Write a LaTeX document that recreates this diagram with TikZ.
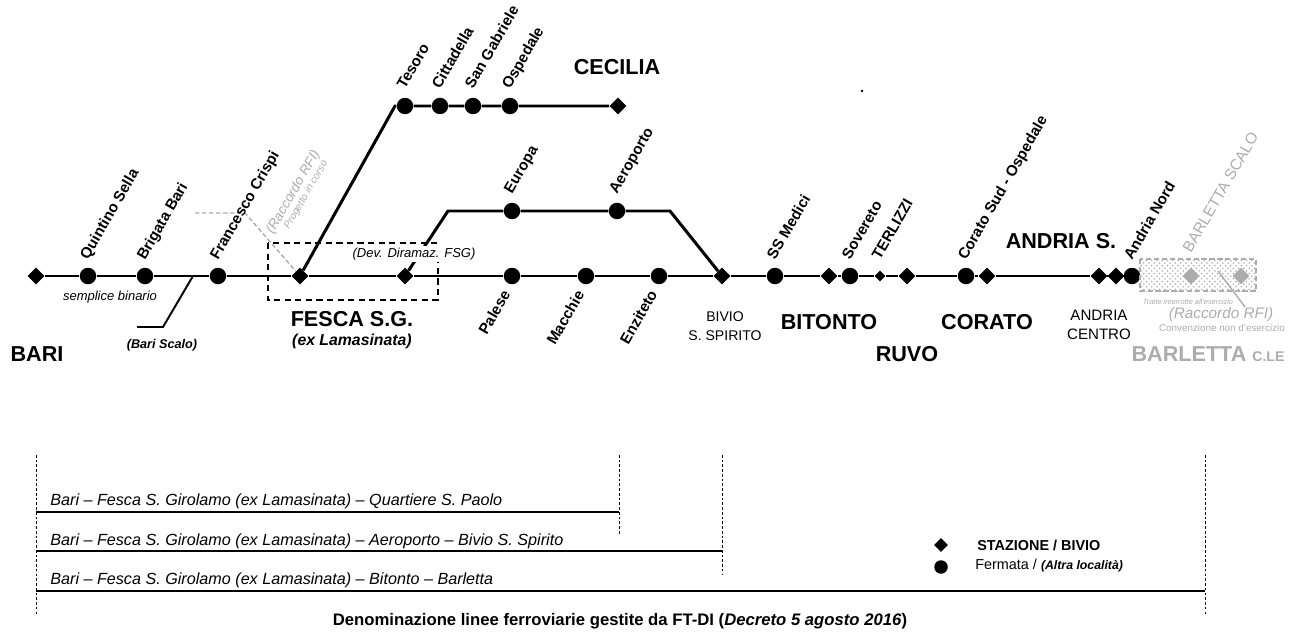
\documentclass[tikz,border=0pt]{standalone}
\usepackage{fontspec}
\setmainfont{Liberation Sans}
\usepackage{tikz}
\usetikzlibrary{
	positioning,
	shapes.geometric,
	patterns
}
\definecolor{rfigray}{RGB}{172,172,172}
\tikzset{
  % line
	cstline/.style   ={line width=1.7pt},
	cstthin/.style   ={line width=1.1pt},
	cstbox/.style    ={line width=1.1pt, dash pattern=on 3.5pt off 2.5pt},
	cstrfi/.style    ={rfigray, line width=0.8pt, dash pattern=on 2.5pt off 1.5pt},
	cstsep/.style    ={line width=0.5pt, dash pattern=on 1.5pt off 1.2pt},
  % station
	cststa/.style    ={diamond, fill=black, inner sep=0pt, minimum width=0.34cm, minimum height=0.34cm},
	cststas/.style   ={cststa, minimum width=0.22cm, minimum height=0.22cm},
	cststop/.style   ={circle, fill=black, inner sep=0pt, minimum size=0.33cm},
  % text
	cstname/.style   ={rotate=60, anchor=base west, inner sep=0pt, font=\fontsize{8.6}{10}\selectfont\bfseries},
	cstnamel/.style  ={rotate=60, anchor=base east, inner sep=0pt, font=\fontsize{8.6}{10}\selectfont\bfseries},
	csttown/.style   ={inner sep=0pt, font=\fontsize{12.3}{14}\selectfont\bfseries},
	cstsmall/.style  ={inner sep=0pt, align=center, font=\fontsize{8}{10.8}\selectfont},
	cstnote/.style   ={inner sep=0pt, font=\fontsize{7.4}{9}\selectfont\itshape},
	cstlinea/.style  ={anchor=base west, inner sep=0pt, font=\fontsize{9.2}{11}\selectfont\itshape}
}

\begin{document}
\begin{tikzpicture}[x=0.02cm, y=-0.02cm]
	\useasboundingbox (0,0) rectangle (1296,632);
	% main line
	\node[cststa] (bari) at (36,276) {};
	\node[cststop] (qsella) at (88,276) {};
	\node[cststop] (bbari) at (145,276) {};
	\node[cststop] (fcrispi) at (218,276) {};
	\node[cststa] (fesca) at (300,276) {};
	\node[cststa] (dev) at (405,276) {};
	\node[cststop] (palese) at (512,276) {};
	\node[cststop] (macchie) at (586,276) {};
	\node[cststop] (enziteto) at (659,276) {};
	\node[cststa] (bivio) at (722,276) {};
	\node[cststop] (ssmedici) at (775,276) {};
	\node[cststa] (bitonto) at (829,276) {};
	\node[cststop] (sovereto) at (850,276) {};
	\node[cststas] (terlizzi) at (880,276) {};
	\node[cststa] (ruvo) at (907,276) {};
	\node[cststop] (coratosud) at (966,276) {};
	\node[cststa] (corato) at (987,276) {};
	\node[cststa] (andriac) at (1099,276) {};
	\node[cststa] (andrias) at (1116,276) {};
	\node[cststop] (andrian) at (1132,276) {};
	\draw[cstline] (bari) -- (qsella) -- (bbari) -- (fcrispi) -- (fesca) -- (dev) -- (palese)
		-- (macchie) -- (enziteto) -- (bivio) -- (ssmedici) -- (bitonto) -- (sovereto)
		-- (terlizzi) -- (ruvo) -- (coratosud) -- (corato) -- (andriac) -- (andrias) -- (andrian);
	% Cecilia branch
	\coordinate (tbend) at (395,106);
	\node[cststop] (tesoro) at (405,106) {};
	\node[cststop] (cittadella) at (440,106) {};
	\node[cststop] (sgabriele) at (473,106) {};
	\node[cststop] (ospedale) at (510,106) {};
	\node[cststa] (cecilia) at (618,106) {};
	\draw[cstline] (fesca) -- (tbend) -- (tesoro) -- (cittadella) -- (sgabriele) -- (ospedale) -- (cecilia);
	% Aeroporto branch
	\coordinate (ebend1) at (448,211);
	\coordinate (ebend2) at (670,211);
	\node[cststop] (europa) at (512,211) {};
	\node[cststop] (aeroporto) at (617,211) {};
	\draw[cstline] (dev) -- (ebend1) -- (europa) -- (aeroporto) -- (ebend2) -- (bivio);
	% Bari Scalo, raccordo RFI
	\coordinate (scalo0) at (193,276);
	\coordinate (scalo1) at (163,327);
	\coordinate (scalo2) at (137,327);
	\draw[cstthin] (scalo0) -- (scalo1) -- (scalo2);
	\coordinate (rfi0) at (195,213);
	\coordinate (rfi1) at (245,213);
	\draw[cstrfi] (rfi0) -- (rfi1) -- (fesca);
	\coordinate (box1) at (268,243);
	\coordinate (box2) at (438,300);
	\draw[cstbox] (box1) rectangle (box2);
	\node[cstnote, fill=white, inner sep=1pt] (ldev) at (414,254) {(Dev. Diramaz. FSG)};
	% Barletta
	\coordinate (bar1) at (1140,259);
	\coordinate (bar2) at (1256,291);
	\fill[pattern=crosshatch dots, pattern color=rfigray] (bar1) rectangle (bar2);
	\draw[rfigray, line width=1pt, dash pattern=on 3pt off 1.5pt] (bar1) rectangle (bar2);
	\node[cststa, fill=rfigray] (bscalo) at (1191,276) {};
	\node[cststa, fill=rfigray] (bcle) at (1241,276) {};
	\coordinate (rfi2) at (1218,271);
	\coordinate (rfi3) at (1245,307);
	\draw[rfigray, line width=0.8pt] (rfi2) -- (rfi3);
	\fill (862,91) circle (0.8pt);
	% station names
	\node[cstname] (lqsella) at ([shift={(0,-15)}]qsella.center) {Quintino Sella};
	\node[cstname] (lbbari) at ([shift={(0,-15)}]bbari.center) {Brigata Bari};
	\node[cstname] (lfcrispi) at ([shift={(0,-15)}]fcrispi.center) {Francesco Crispi};
	\node[cstname] (ltesoro) at ([shift={(0,-16)}]tesoro.center) {Tesoro};
	\node[cstname] (lcittadella) at ([shift={(0,-16)}]cittadella.center) {Cittadella};
	\node[cstname] (lsgabriele) at ([shift={(0,-16)}]sgabriele.center) {San Gabriele};
	\node[cstname] (lospedale) at ([shift={(0,-16)}]ospedale.center) {Ospedale};
	\node[cstname] (leuropa) at ([shift={(0,-16)}]europa.center) {Europa};
	\node[cstname] (laeroporto) at ([shift={(0,-16)}]aeroporto.center) {Aeroporto};
	\node[cstname] (lssmedici) at ([shift={(0,-15)}]ssmedici.center) {SS Medici};
	\node[cstname] (lsovereto) at ([shift={(0,-15)}]sovereto.center) {Sovereto};
	\node[cstname] (lterlizzi) at ([shift={(0,-15)}]terlizzi.center) {TERLIZZI};
	\node[cstname] (lcoratosud) at ([shift={(0,-15)}]coratosud.center) {Corato Sud - Ospedale};
	\node[cstname] (landrian) at ([shift={(0,-15)}]andrian.center) {Andria Nord};
	\node[cstnamel] (lpalese) at ([shift={(-1,18)}]palese.center) {Palese};
	\node[cstnamel] (lmacchie) at ([shift={(-1,18)}]macchie.center) {Macchie};
	\node[cstnamel] (lenziteto) at ([shift={(-1,18)}]enziteto.center) {Enziteto};
	% towns
	\node[csttown] (lbari) at (37,354) {BARI};
	\node[csttown] (lfesca) at (352,319) {FESCA S.G.};
	\node[inner sep=0pt, font=\fontsize{9}{11}\selectfont\bfseries\itshape] (lexlam) at (352,341) {(ex Lamasinata)};
	\node[csttown] (lcecilia) at (617,67) {CECILIA};
	\node[cstsmall] (lbivio) at (725,326) {BIVIO\\S. SPIRITO};
	\node[csttown] (lbitonto) at (829,322) {BITONTO};
	\node[csttown] (lruvo) at (907,354) {RUVO};
	\node[csttown] (lcorato) at (987,322) {CORATO};
	\node[csttown] (landrias) at (1061,241) {ANDRIA S.};
	\node[cstsmall, font=\fontsize{8.6}{10.8}\selectfont] (landriac) at (1099,325) {ANDRIA\\CENTRO};
	\node[csttown, text=rfigray] (lbarletta) at (1208,354) {BARLETTA {\fontsize{8}{10}\selectfont C.LE}};
	% notes
	\node[cstnote] (lbinario) at (110,297) {semplice binario};
	\node[cstnote, font=\fontsize{7.2}{9}\selectfont\bfseries\itshape] (lscalo) at (162,345) {(Bari Scalo)};
	\node[cstname, font=\fontsize{7.8}{9}\selectfont\itshape, text=rfigray] (lrfi) at (273,235) {(Raccordo RFI)};
	\node[cstname, font=\fontsize{5.8}{7}\selectfont\itshape, text=rfigray] (lprog) at (289,230) {Progetto in corso};
	\node[cstname, font=\fontsize{8.8}{11}\selectfont, text=rfigray] (lbscalo) at ([shift={(0,-22)}]bscalo.center) {BARLETTA SCALO};
	\node[cstnote, font=\fontsize{4.2}{5}\selectfont\itshape, text=rfigray] (ltratte) at (1188,302) {Tratte interrotte all'esercizio};
	\node[cstnote, font=\fontsize{8.7}{10}\selectfont\itshape, text=rfigray] (lrfi2) at (1221,315) {(Raccordo RFI)};
	\node[cstnote, font=\fontsize{5.6}{7}\selectfont, text=rfigray] (lconv) at (1222,328) {Convenzione non d'esercizio};
	% linee
	\coordinate (s1t) at (36,455);  \coordinate (s1b) at (36,615);
	\coordinate (s2t) at (619,455); \coordinate (s2b) at (619,535);
	\coordinate (s3t) at (722,455); \coordinate (s3b) at (722,575);
	\coordinate (s4t) at (1205,455); \coordinate (s4b) at (1205,615);
	\draw[cstsep] (s1t) -- (s1b) (s2t) -- (s2b) (s3t) -- (s3b) (s4t) -- (s4b);
	\coordinate (l1) at (36,512); \coordinate (l2) at (36,551); \coordinate (l3) at (36,591);
	\draw[cstthin] (l1) -- (l1 -| s2t) (l2) -- (l2 -| s3t) (l3) -- (l3 -| s4t);
	\node[cstlinea] (linea1) at (50,505) {Bari – Fesca S. Girolamo (ex Lamasinata) – Quartiere S. Paolo};
	\node[cstlinea] (linea2) at (50,545) {Bari – Fesca S. Girolamo (ex Lamasinata) – Aeroporto – Bivio S. Spirito};
	\node[cstlinea] (linea3) at (50,584) {Bari – Fesca S. Girolamo (ex Lamasinata) – Bitonto – Barletta};
	% legend
	\node[cststa, minimum width=0.28cm, minimum height=0.28cm] (legsta) at (941,545) {};
	\node[cststop, minimum size=0.27cm] (legstop) at (941,567) {};
	\node[anchor=west, inner sep=0pt, font=\fontsize{8.2}{10}\selectfont\bfseries] (llegsta) at (977,545) {STAZIONE / BIVIO};
	\node[anchor=west, inner sep=0pt, font=\fontsize{8.2}{10}\selectfont] (llegstop) at (975,566) {Fermata / {\fontsize{7}{9}\selectfont\bfseries\itshape(Altra località)}};
	\node[inner sep=0pt, font=\fontsize{9.5}{11}\selectfont\bfseries] (footer) at (620,621) {Denominazione linee ferroviarie gestite da FT-DI (\textit{Decreto 5 agosto 2016})};
\end{tikzpicture}
\end{document}
